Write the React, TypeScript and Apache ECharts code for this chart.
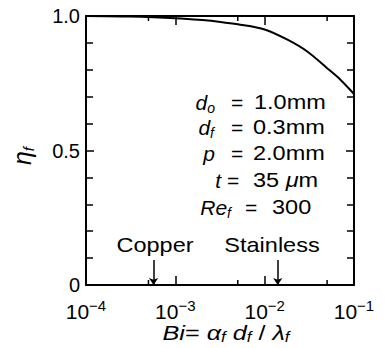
import React, { useEffect, useRef } from "react";
import * as echarts from "echarts";

// Fin efficiency curve against the fin Biot number
const BI = [1e-4, 3e-4, 1e-3, 2e-3, 3.2e-3, 5e-3, 1e-2, 1.8e-2, 3e-2, 5e-2, 7e-2, 1e-1];
const ETA = [1.0, 0.998, 0.992, 0.985, 0.978, 0.969, 0.95, 0.912, 0.868, 0.806, 0.764, 0.71];

// Materials marked by arrows on the Bi axis
const MATERIALS = ["Copper", "Stainless"];
const MATERIAL_BI = [5.7e-4, 1.4e-2];
const ARROW_TOP = 0.093;

// Axis tick labels
const X_EXPONENTS = ["−4", "−3", "−2", "−1"];
const Y_LABELS: Record<string, string> = { "0": "0", "0.5": "0.5", "1": "1.0" };
// Extra ticks between decades
const HALF_DECADE_TICKS = [5e-4, 5e-3, 5e-2];

// Parameter block: symbol, value
const PARAM_SYMBOLS = ["{v|d}{s|o}", "{v|d}{s|f}", "{v|p}", "{v|t}", "{v|Re}{s|f}"];
const PARAM_VALUES = ["{n|1.0mm}", "{n|0.3mm}", "{n|2.0mm}", "{n|35 }{v|μ}{n|m}", "{n|300}"];

const FONT = '"Liberation Sans", Arial, Helvetica, sans-serif';

const textRich = {
  n: { fontSize: 21, fontFamily: FONT, fill: "#000" },
  v: { fontStyle: "italic", fontSize: 21, fontFamily: FONT, fill: "#000" },
  s: {
    fontStyle: "italic",
    fontSize: 14,
    fontFamily: FONT,
    fill: "#000",
    verticalAlign: "bottom",
  },
};

const richText = (
  x: number,
  y: number,
  text: string,
  align: string,
  extra: any = {},
  lineHeight = 26
) => ({
  type: "text",
  x,
  y,
  silent: true,
  ...extra,
  style: {
    text,
    fontFamily: FONT,
    fontSize: 21,
    lineHeight,
    fill: "#000",
    align,
    verticalAlign: "middle",
    rich: textRich,
  },
});

export default function App() {
  const ref = useRef<HTMLDivElement>(null);

  useEffect(() => {
    document.body.style.margin = "0";
    if (!ref.current) return;
    const chart = echarts.init(ref.current, null, { renderer: "svg" });

    const axisLine = { show: true, onZero: false, lineStyle: { color: "#000", width: 2 } };
    const tickStyle = { color: "#000", width: 1.5 };

    const xBase = {
      type: "log" as const,
      logBase: 10,
      min: 1e-4,
      max: 1e-1,
      axisLine,
      axisTick: { show: true, inside: true, length: 9, lineStyle: tickStyle },
      splitLine: { show: false },
      minorTick: { show: false },
    };

    const yBase = {
      type: "value" as const,
      min: 0,
      max: 1,
      interval: 0.5,
      axisLine,
      axisTick: { show: true, inside: true, length: 8, lineStyle: tickStyle },
      minorTick: { show: true, splitNumber: 5, length: 7, lineStyle: tickStyle },
      splitLine: { show: false },
    };

    const curve = BI.map((b, i) => [b, ETA[i]]);

    // layout of the parameter block
    const rowY = [102, 127, 153, 180, 207];
    const symEnd = [215, 214, 215, 221, 231];
    const eqX = [237, 237, 237, 233, 251];
    const valX = [254, 253, 253, 253, 272];
    const labelX = [155, 272];
    const wide = { scaleX: 1.12 };

    chart.setOption({
      animation: false,
      grid: { left: 86, right: 31, top: 16, bottom: 63 },
      xAxis: [
        {
          ...xBase,
          position: "bottom",
          axisLabel: {
            margin: 13,
            color: "#000",
            fontFamily: FONT,
            fontSize: 21,
            lineHeight: 26,
            formatter: (v: number) => {
              const k = Math.round(Math.log10(v)) + 4;
              return `{b|10}{e|${X_EXPONENTS[k]}}`;
            },
            rich: {
              b: { fontSize: 21, fontFamily: FONT, color: "#000" },
              e: { fontSize: 15, fontFamily: FONT, color: "#000", verticalAlign: "top" },
            },
          },
        },
        { ...xBase, position: "top", axisLabel: { show: false } },
      ],
      yAxis: [
        {
          ...yBase,
          position: "left",
          axisLabel: {
            margin: 6,
            color: "#000",
            fontFamily: FONT,
            fontSize: 20,
            formatter: (v: number) => Y_LABELS[String(v)] ?? "",
          },
        },
        { ...yBase, position: "right", axisLabel: { show: false } },
      ],
      series: [
        {
          type: "line",
          xAxisIndex: 0,
          yAxisIndex: 0,
          data: curve,
          showSymbol: false,
          smooth: 0.3,
          lineStyle: { color: "#000", width: 2 },
          silent: true,
          markLine: {
            silent: true,
            symbol: ["none", "arrow"],
            symbolSize: 7,
            label: { show: false },
            lineStyle: { color: "#000", width: 1.5, type: "solid" },
            emphasis: { disabled: true },
            data: MATERIAL_BI.map((b) => [
              { coord: [b, ARROW_TOP] },
              { coord: [b, 0] },
            ]),
          },
        },
        {
          type: "custom",
          xAxisIndex: 0,
          yAxisIndex: 0,
          silent: true,
          clip: false,
          data: HALF_DECADE_TICKS.flatMap((t) => [
            [t, 0],
            [t, 1],
          ]),
          renderItem: (_p: any, api: any) => {
            const side = api.value(1);
            const p = api.coord([api.value(0), side]);
            const len = 5;
            return {
              type: "line",
              shape: {
                x1: p[0],
                y1: p[1],
                x2: p[0],
                y2: side === 0 ? p[1] - len : p[1] + len,
              },
              style: { stroke: "#000", lineWidth: 1.5 },
            };
          },
        },
      ],
      graphic: [
        ...PARAM_SYMBOLS.map((t, i) => richText(symEnd[i], rowY[i], t, "right")),
        ...PARAM_SYMBOLS.map((_t, i) => richText(eqX[i], rowY[i], "{n|=}", "center")),
        ...PARAM_VALUES.map((t, i) => richText(valX[i], rowY[i], t, "left", wide)),
        ...MATERIALS.map((m, i) => richText(labelX[i], 245, `{n|${m}}`, "center", wide)),
        {
          type: "text",
          x: 22,
          y: 156,
          rotation: Math.PI / 2,
          silent: true,
          style: {
            text: "{v|η}{s|f}",
            fontFamily: FONT,
            fontSize: 24,
            lineHeight: 28,
            fill: "#000",
            align: "center",
            verticalAlign: "middle",
            rich: {
              v: { fontStyle: "italic", fontSize: 25, fontFamily: FONT, fill: "#000" },
              s: {
                fontStyle: "italic",
                fontSize: 15,
                fontFamily: FONT,
                fill: "#000",
                verticalAlign: "bottom",
              },
            },
          },
        },
        richText(
          226,
          333,
          "{v|Bi}{n|= }{v|α}{s|f}{n| }{v|d}{s|f}{n| / }{v|λ}{s|f}",
          "center",
          { scaleX: 1.2 },
          22
        ),
      ],
    });

    return () => chart.dispose();
  }, []);

  return <div ref={ref} style={{ width: 385, height: 348 }} />;
}
